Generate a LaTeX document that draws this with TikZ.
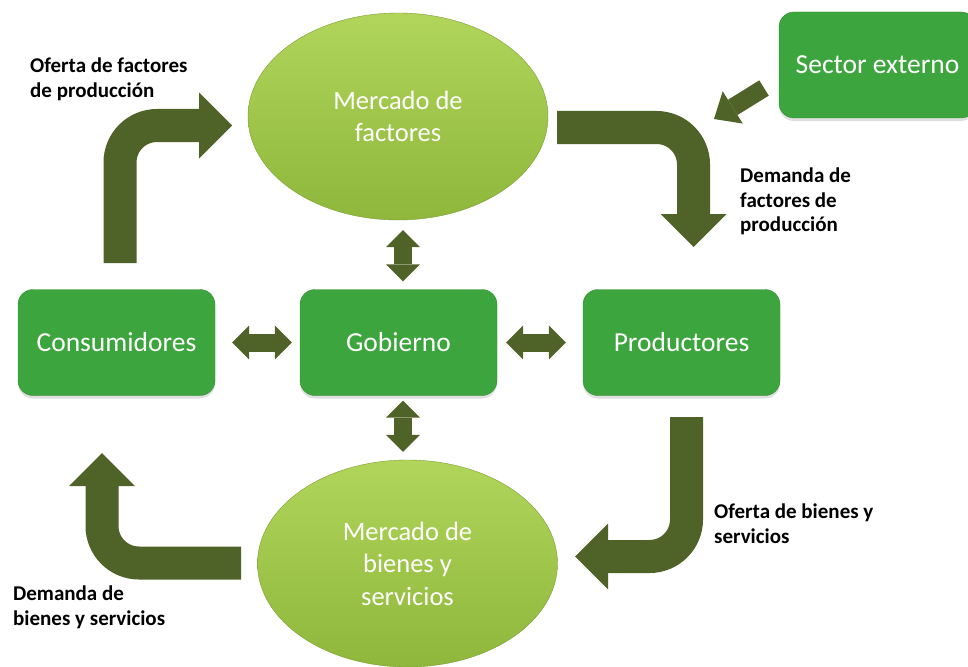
\documentclass[tikz,border=0pt]{standalone}
\usepackage{fontspec}
\setmainfont{Carlito}
\usetikzlibrary{arrows.meta,shapes.geometric,positioning,shadows}

\definecolor{oliva}{HTML}{4F6228}
\definecolor{verdecaja}{HTML}{3DA53D}
\definecolor{bordecaja}{HTML}{308C30}
\definecolor{verdeclaro}{HTML}{B0D55A}
\definecolor{verdemedio}{HTML}{8EB73C}
\definecolor{bordeelipse}{HTML}{7C9E33}

\begin{document}
\begin{tikzpicture}[x=1pt, y=-1pt,
    caja/.style={draw=bordecaja, fill=verdecaja, rounded corners=15pt, minimum width=197pt, minimum height=106pt,
      text=white, font=\fontsize{27.5}{32}\selectfont, drop shadow={opacity=0.25, shadow xshift=0pt, shadow yshift=-3pt}},
    mercado/.style={ellipse, draw=bordeelipse, top color=verdeclaro, bottom color=verdemedio, minimum width=300pt,
      minimum height=207pt, inner sep=0pt, text=white, align=center, font=\fontsize{26.5}{32.5}\selectfont},
    etiqueta/.style={anchor=north west, align=left, inner sep=0pt, font=\bfseries\fontsize{21}{24.5}\selectfont},
    flujo/.style={draw=oliva, line width=33pt, rounded corners=37pt, -{Triangle[width=66pt, length=33pt, line width=0pt]}},
    doble/.style={draw=oliva, line width=18pt, {Triangle[width=34pt, length=17pt, line width=0pt]}-{Triangle[width=34pt, length=17pt, line width=0pt]}},
    entrada/.style={draw=oliva, line width=18pt, -{Triangle[width=38pt, length=22pt, line width=0pt]}}
  ]
  \useasboundingbox (0,0) rectangle (968,666);

  % Mercados
  \node[mercado] (mf) at (398,116.5) {Mercado de\\factores};
  \node[mercado] (mb) at (407.5,563.5) {Mercado de\\bienes y\\servicios};

  % Agentes
  \node[caja] (cons) at (116.5,342.5) {Consumidores};
  \node[caja] (gob) at (398.5,342.5) {Gobierno};
  \node[caja] (prod) at (681.5,342.5) {Productores};
  \node[caja] (ext) at (877.5,65) {Sector externo};

  % Flujos grandes
  \coordinate (ofa) at (120,263);
  \coordinate (ofb) at (232,125.5);
  \draw[flujo] (ofa) |- (ofb);

  \coordinate (dfa) at (557,127.5);
  \coordinate (dfb) at (693.5,247);
  \draw[flujo] (dfa) -| (dfb);

  \coordinate (oba) at (686.5,417);
  \coordinate (obb) at (575,556.5);
  \draw[flujo] (oba) |- (obb);

  \coordinate (dba) at (241,563);
  \coordinate (dbb) at (102,453);
  \draw[flujo] (dba) -| (dbb);

  % Flechas dobles con el gobierno
  \draw[doble, shorten <=10pt, shorten >=8pt] ([xshift=4.5pt]gob.north |- mf.south) -- ([xshift=4.5pt]gob.north);
  \draw[doble, shorten <=5pt, shorten >=8pt] ([xshift=4.5pt]gob.south) -- ([xshift=4.5pt]gob.south |- mb.north);
  \draw[doble, shorten <=17pt, shorten >=8pt] (cons.east) -- (gob.west);
  \draw[doble, shorten <=9pt, shorten >=17pt] (gob.east) -- (prod.west);

  % Sector externo
  \coordinate (sea) at (764,88);
  \coordinate (seb) at (714,119);
  \draw[entrada] (sea) -- (seb);

  % Etiquetas
  \node[etiqueta] (lof) at (30,58) {Oferta de factores\\de producción};
  \node[etiqueta] (ldf) at (740,168) {Demanda de\\factores de\\producción};
  \node[etiqueta] (lob) at (714,504) {Oferta de bienes y\\servicios};
  \node[etiqueta] (ldb) at (13,586) {Demanda de\\bienes y servicios};
\end{tikzpicture}
\end{document}
